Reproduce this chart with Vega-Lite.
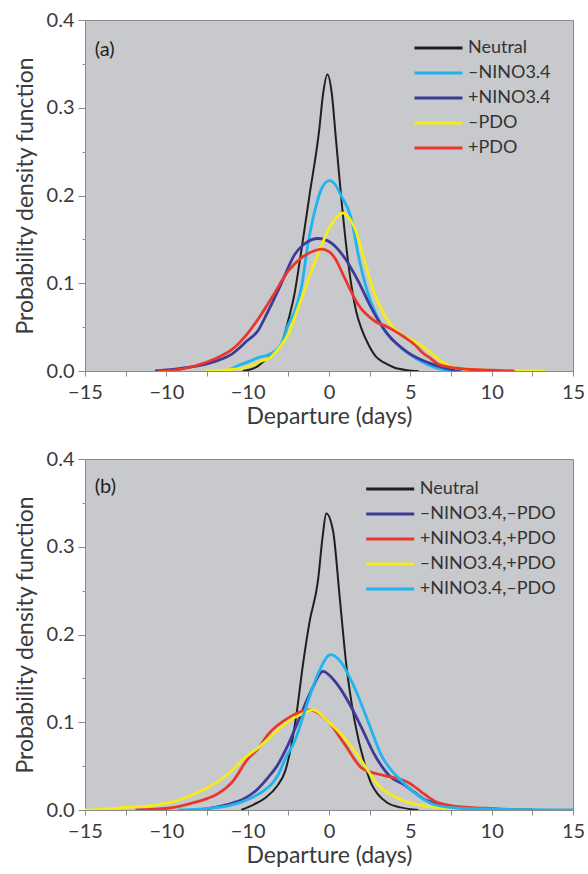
{
  "$schema": "https://vega.github.io/schema/vega-lite/v6.json",
  "padding": {"left": 13, "top": 9, "right": 5, "bottom": 5},
  "background": "white",
  "config": {
    "font": "Lato",
    "view": {"fill": "#c8c9cc", "stroke": "#8a8a8a", "strokeWidth": 1},
    "axis": {
      "grid": false, "domain": false,
      "labelFont": "Lato", "labelFontSize": 20, "labelColor": "#3a3a3a",
      "titleFont": "Lato", "titleFontSize": 23, "titleFontWeight": "normal", "titleColor": "#3a3a3a",
      "tickColor": "#8a8a8a", "tickWidth": 1
    },
    "legend": {
      "orient": "none", "padding": 0, "title": null,
      "symbolType": "M-4,0H4", "symbolSize": 144, "symbolStrokeWidth": 2.8,
      "labelFont": "Lato", "labelFontSize": 18, "labelColor": "#333333",
      "labelOffset": 20.5, "rowPadding": 7
    },
    "concat": {"spacing": 19}
  },
  "datasets": {
    "a": [
      {"s":"Neutral","x":-5.3,"y":0},{"s":"Neutral","x":-4.5,"y":0.004},{"s":"Neutral","x":-3.9,"y":0.013},{"s":"Neutral","x":-3.4,"y":0.02},{"s":"Neutral","x":-2.9,"y":0.032},{"s":"Neutral","x":-2.5,"y":0.058},{"s":"Neutral","x":-2.1,"y":0.09},{"s":"Neutral","x":-1.8,"y":0.125},{"s":"Neutral","x":-1.2,"y":0.2},{"s":"Neutral","x":-0.6,"y":0.275},{"s":"Neutral","x":-0.37,"y":0.315},{"s":"Neutral","x":-0.1,"y":0.338},{"s":"Neutral","x":0.18,"y":0.315},{"s":"Neutral","x":0.4,"y":0.27},{"s":"Neutral","x":0.74,"y":0.2},{"s":"Neutral","x":1.17,"y":0.125},{"s":"Neutral","x":1.67,"y":0.068},{"s":"Neutral","x":2.0,"y":0.048},{"s":"Neutral","x":2.4,"y":0.031},{"s":"Neutral","x":2.9,"y":0.016},{"s":"Neutral","x":3.4,"y":0.0095},{"s":"Neutral","x":4.0,"y":0.004},{"s":"Neutral","x":4.8,"y":0.001},{"s":"Neutral","x":5.5,"y":0},
      {"s":"–NINO3.4","x":-6.3,"y":0},{"s":"–NINO3.4","x":-5.6,"y":0.006},{"s":"–NINO3.4","x":-4.9,"y":0.011},{"s":"–NINO3.4","x":-4.4,"y":0.015},{"s":"–NINO3.4","x":-3.8,"y":0.018},{"s":"–NINO3.4","x":-3.3,"y":0.023},{"s":"–NINO3.4","x":-2.9,"y":0.032},{"s":"–NINO3.4","x":-2.5,"y":0.053},{"s":"–NINO3.4","x":-2.1,"y":0.068},{"s":"–NINO3.4","x":-1.7,"y":0.095},{"s":"–NINO3.4","x":-1.29,"y":0.145},{"s":"–NINO3.4","x":-0.88,"y":0.182},{"s":"–NINO3.4","x":-0.4,"y":0.21},{"s":"–NINO3.4","x":0.04,"y":0.217},{"s":"–NINO3.4","x":0.4,"y":0.212},{"s":"–NINO3.4","x":0.74,"y":0.2},{"s":"–NINO3.4","x":1.35,"y":0.175},{"s":"–NINO3.4","x":1.88,"y":0.125},{"s":"–NINO3.4","x":2.4,"y":0.088},{"s":"–NINO3.4","x":3.2,"y":0.053},{"s":"–NINO3.4","x":4.4,"y":0.027},{"s":"–NINO3.4","x":5.65,"y":0.011},{"s":"–NINO3.4","x":6.5,"y":0.004},{"s":"–NINO3.4","x":7.7,"y":0},
      {"s":"+NINO3.4","x":-10.7,"y":0},{"s":"+NINO3.4","x":-9.5,"y":0.002},{"s":"+NINO3.4","x":-8.0,"y":0.006},{"s":"+NINO3.4","x":-7.0,"y":0.011},{"s":"+NINO3.4","x":-6.0,"y":0.019},{"s":"+NINO3.4","x":-5.0,"y":0.035},{"s":"+NINO3.4","x":-4.4,"y":0.045},{"s":"+NINO3.4","x":-3.75,"y":0.068},{"s":"+NINO3.4","x":-2.95,"y":0.099},{"s":"+NINO3.4","x":-2.1,"y":0.133},{"s":"+NINO3.4","x":-1.5,"y":0.145},{"s":"+NINO3.4","x":-0.68,"y":0.151},{"s":"+NINO3.4","x":0.13,"y":0.146},{"s":"+NINO3.4","x":0.96,"y":0.129},{"s":"+NINO3.4","x":1.78,"y":0.103},{"s":"+NINO3.4","x":2.6,"y":0.072},{"s":"+NINO3.4","x":3.6,"y":0.042},{"s":"+NINO3.4","x":4.86,"y":0.021},{"s":"+NINO3.4","x":6.1,"y":0.0095},{"s":"+NINO3.4","x":7.2,"y":0.003},{"s":"+NINO3.4","x":8.2,"y":0},
      {"s":"–PDO","x":-7.6,"y":0},{"s":"–PDO","x":-6.5,"y":0.001},{"s":"–PDO","x":-5.8,"y":0.002},{"s":"–PDO","x":-4.8,"y":0.006},{"s":"–PDO","x":-4.2,"y":0.011},{"s":"–PDO","x":-3.5,"y":0.017},{"s":"–PDO","x":-3.0,"y":0.028},{"s":"–PDO","x":-2.5,"y":0.042},{"s":"–PDO","x":-1.9,"y":0.072},{"s":"–PDO","x":-1.29,"y":0.103},{"s":"–PDO","x":-0.68,"y":0.133},{"s":"–PDO","x":-0.06,"y":0.16},{"s":"–PDO","x":0.4,"y":0.174},{"s":"–PDO","x":0.86,"y":0.18},{"s":"–PDO","x":1.2,"y":0.175},{"s":"–PDO","x":1.58,"y":0.163},{"s":"–PDO","x":2.2,"y":0.125},{"s":"–PDO","x":2.8,"y":0.088},{"s":"–PDO","x":3.6,"y":0.058},{"s":"–PDO","x":4.4,"y":0.042},{"s":"–PDO","x":5.0,"y":0.036},{"s":"–PDO","x":5.7,"y":0.029},{"s":"–PDO","x":6.3,"y":0.02},{"s":"–PDO","x":6.9,"y":0.011},{"s":"–PDO","x":7.6,"y":0.004},{"s":"–PDO","x":8.5,"y":0.0015},{"s":"–PDO","x":10,"y":0.0008},{"s":"–PDO","x":13.3,"y":0},
      {"s":"+PDO","x":-10.5,"y":0},{"s":"+PDO","x":-9.5,"y":0.001},{"s":"+PDO","x":-8.2,"y":0.006},{"s":"+PDO","x":-7.0,"y":0.014},{"s":"+PDO","x":-6.0,"y":0.024},{"s":"+PDO","x":-5.0,"y":0.043},{"s":"+PDO","x":-4.4,"y":0.058},{"s":"+PDO","x":-3.5,"y":0.084},{"s":"+PDO","x":-2.5,"y":0.114},{"s":"+PDO","x":-1.7,"y":0.129},{"s":"+PDO","x":-0.9,"y":0.137},{"s":"+PDO","x":-0.47,"y":0.139},{"s":"+PDO","x":0.0,"y":0.136},{"s":"+PDO","x":0.35,"y":0.129},{"s":"+PDO","x":0.96,"y":0.106},{"s":"+PDO","x":1.78,"y":0.076},{"s":"+PDO","x":2.8,"y":0.057},{"s":"+PDO","x":3.5,"y":0.051},{"s":"+PDO","x":4.0,"y":0.046},{"s":"+PDO","x":4.6,"y":0.039},{"s":"+PDO","x":5.27,"y":0.03},{"s":"+PDO","x":5.8,"y":0.02},{"s":"+PDO","x":6.2,"y":0.015},{"s":"+PDO","x":6.7,"y":0.008},{"s":"+PDO","x":7.5,"y":0.004},{"s":"+PDO","x":8.5,"y":0.002},{"s":"+PDO","x":10,"y":0.001},{"s":"+PDO","x":11.4,"y":0}
    ],
    "b": [
      {"s":"Neutral","x":-5.4,"y":0},{"s":"Neutral","x":-4.6,"y":0.0065},{"s":"Neutral","x":-3.9,"y":0.014},{"s":"Neutral","x":-3.2,"y":0.027},{"s":"Neutral","x":-2.7,"y":0.044},{"s":"Neutral","x":-2.3,"y":0.075},{"s":"Neutral","x":-2.0,"y":0.109},{"s":"Neutral","x":-1.6,"y":0.166},{"s":"Neutral","x":-1.19,"y":0.215},{"s":"Neutral","x":-0.68,"y":0.261},{"s":"Neutral","x":-0.4,"y":0.31},{"s":"Neutral","x":-0.17,"y":0.338},{"s":"Neutral","x":0.25,"y":0.318},{"s":"Neutral","x":0.66,"y":0.242},{"s":"Neutral","x":1.06,"y":0.166},{"s":"Neutral","x":1.58,"y":0.101},{"s":"Neutral","x":2.2,"y":0.052},{"s":"Neutral","x":2.6,"y":0.03},{"s":"Neutral","x":3.0,"y":0.018},{"s":"Neutral","x":3.6,"y":0.008},{"s":"Neutral","x":4.4,"y":0.003},{"s":"Neutral","x":5.5,"y":0},
      {"s":"–NINO3.4,–PDO","x":-8.05,"y":0},{"s":"–NINO3.4,–PDO","x":-7.0,"y":0.003},{"s":"–NINO3.4,–PDO","x":-6.2,"y":0.0065},{"s":"–NINO3.4,–PDO","x":-5.2,"y":0.013},{"s":"–NINO3.4,–PDO","x":-4.5,"y":0.022},{"s":"–NINO3.4,–PDO","x":-3.75,"y":0.037},{"s":"–NINO3.4,–PDO","x":-3.2,"y":0.05},{"s":"–NINO3.4,–PDO","x":-2.6,"y":0.071},{"s":"–NINO3.4,–PDO","x":-1.9,"y":0.101},{"s":"–NINO3.4,–PDO","x":-1.09,"y":0.136},{"s":"–NINO3.4,–PDO","x":-0.37,"y":0.158},{"s":"–NINO3.4,–PDO","x":0.35,"y":0.147},{"s":"–NINO3.4,–PDO","x":1.17,"y":0.124},{"s":"–NINO3.4,–PDO","x":2.0,"y":0.094},{"s":"–NINO3.4,–PDO","x":2.8,"y":0.063},{"s":"–NINO3.4,–PDO","x":3.83,"y":0.037},{"s":"–NINO3.4,–PDO","x":4.6,"y":0.029},{"s":"–NINO3.4,–PDO","x":5.27,"y":0.02},{"s":"–NINO3.4,–PDO","x":5.8,"y":0.013},{"s":"–NINO3.4,–PDO","x":6.7,"y":0.007},{"s":"–NINO3.4,–PDO","x":8,"y":0.003},{"s":"–NINO3.4,–PDO","x":10,"y":0.001},{"s":"–NINO3.4,–PDO","x":12.5,"y":0},
      {"s":"+NINO3.4,+PDO","x":-11.9,"y":0},{"s":"+NINO3.4,+PDO","x":-9.9,"y":0.002},{"s":"+NINO3.4,+PDO","x":-8.4,"y":0.008},{"s":"+NINO3.4,+PDO","x":-7.5,"y":0.013},{"s":"+NINO3.4,+PDO","x":-6.8,"y":0.019},{"s":"+NINO3.4,+PDO","x":-5.9,"y":0.033},{"s":"+NINO3.4,+PDO","x":-5.0,"y":0.058},{"s":"+NINO3.4,+PDO","x":-4.4,"y":0.069},{"s":"+NINO3.4,+PDO","x":-3.75,"y":0.086},{"s":"+NINO3.4,+PDO","x":-2.5,"y":0.105},{"s":"+NINO3.4,+PDO","x":-1.19,"y":0.114},{"s":"+NINO3.4,+PDO","x":-0.06,"y":0.101},{"s":"+NINO3.4,+PDO","x":0.96,"y":0.075},{"s":"+NINO3.4,+PDO","x":2.0,"y":0.048},{"s":"+NINO3.4,+PDO","x":3.0,"y":0.041},{"s":"+NINO3.4,+PDO","x":3.7,"y":0.038},{"s":"+NINO3.4,+PDO","x":4.4,"y":0.035},{"s":"+NINO3.4,+PDO","x":5.0,"y":0.03},{"s":"+NINO3.4,+PDO","x":5.65,"y":0.021},{"s":"+NINO3.4,+PDO","x":6.5,"y":0.01},{"s":"+NINO3.4,+PDO","x":7.5,"y":0.005},{"s":"+NINO3.4,+PDO","x":9.5,"y":0.002},{"s":"+NINO3.4,+PDO","x":12,"y":0},
      {"s":"–NINO3.4,+PDO","x":-15,"y":0},{"s":"–NINO3.4,+PDO","x":-13.8,"y":0.001},{"s":"–NINO3.4,+PDO","x":-12.5,"y":0.003},{"s":"–NINO3.4,+PDO","x":-10.9,"y":0.005},{"s":"–NINO3.4,+PDO","x":-9.9,"y":0.008},{"s":"–NINO3.4,+PDO","x":-8.85,"y":0.014},{"s":"–NINO3.4,+PDO","x":-7.5,"y":0.025},{"s":"–NINO3.4,+PDO","x":-6.8,"y":0.033},{"s":"–NINO3.4,+PDO","x":-6.2,"y":0.041},{"s":"–NINO3.4,+PDO","x":-5.2,"y":0.059},{"s":"–NINO3.4,+PDO","x":-4.16,"y":0.074},{"s":"–NINO3.4,+PDO","x":-3.2,"y":0.09},{"s":"–NINO3.4,+PDO","x":-2.5,"y":0.101},{"s":"–NINO3.4,+PDO","x":-1.6,"y":0.11},{"s":"–NINO3.4,+PDO","x":-0.98,"y":0.114},{"s":"–NINO3.4,+PDO","x":-0.06,"y":0.101},{"s":"–NINO3.4,+PDO","x":0.96,"y":0.082},{"s":"–NINO3.4,+PDO","x":2.0,"y":0.056},{"s":"–NINO3.4,+PDO","x":3.0,"y":0.029},{"s":"–NINO3.4,+PDO","x":4.4,"y":0.012},{"s":"–NINO3.4,+PDO","x":5.9,"y":0.0046},{"s":"–NINO3.4,+PDO","x":7.5,"y":0.002},{"s":"–NINO3.4,+PDO","x":9.2,"y":0},
      {"s":"+NINO3.4,–PDO","x":-9.3,"y":0},{"s":"+NINO3.4,–PDO","x":-8,"y":0.001},{"s":"+NINO3.4,–PDO","x":-6.2,"y":0.0046},{"s":"+NINO3.4,–PDO","x":-4.75,"y":0.014},{"s":"+NINO3.4,–PDO","x":-4.0,"y":0.022},{"s":"+NINO3.4,–PDO","x":-3.5,"y":0.03},{"s":"+NINO3.4,–PDO","x":-3.1,"y":0.041},{"s":"+NINO3.4,–PDO","x":-2.7,"y":0.058},{"s":"+NINO3.4,–PDO","x":-2.1,"y":0.079},{"s":"+NINO3.4,–PDO","x":-1.29,"y":0.124},{"s":"+NINO3.4,–PDO","x":-0.68,"y":0.155},{"s":"+NINO3.4,–PDO","x":0.1,"y":0.177},{"s":"+NINO3.4,–PDO","x":0.76,"y":0.168},{"s":"+NINO3.4,–PDO","x":1.58,"y":0.139},{"s":"+NINO3.4,–PDO","x":2.4,"y":0.101},{"s":"+NINO3.4,–PDO","x":3.2,"y":0.063},{"s":"+NINO3.4,–PDO","x":4.45,"y":0.033},{"s":"+NINO3.4,–PDO","x":5.67,"y":0.014},{"s":"+NINO3.4,–PDO","x":6.5,"y":0.006},{"s":"+NINO3.4,–PDO","x":8,"y":0.002},{"s":"+NINO3.4,–PDO","x":10,"y":0.001},{"s":"+NINO3.4,–PDO","x":15,"y":0}
    ]
  },
  "vconcat": [
    {
      "width": 488, "height": 351,
      "layer": [
        {
          "data": {"name": "a"},
          "mark": {"type": "line", "interpolate": "monotone", "clip": true},
          "encoding": {
            "x": {"field": "x", "type": "quantitative", "scale": {"domain": [-15, 15], "nice": false},
              "axis": {"title": "Departure (days)", "values": [-15,-12.5,-10,-7.5,-5,-2.5,0,2.5,5,7.5,10,12.5,15],
                "labelExpr": "datum.value == -5 ? '−10' : (datum.value % 5 == 0 ? format(datum.value, 'd') : '')",
                "tickSize": 5, "labelPadding": 6, "titlePadding": 3, "labelFlush": false}},
            "y": {"field": "y", "type": "quantitative", "scale": {"domain": [0, 0.4], "nice": false},
              "axis": {"title": "Probability density function", "values": [0,0.05,0.1,0.15,0.2,0.25,0.3,0.35,0.4],
                "labelExpr": "round(datum.value*100) % 10 == 0 ? format(datum.value, '.1f') : ''",
                "tickSize": {"condition": {"test": "round(datum.value*100) % 10 == 0", "value": 7}, "value": 3},
                "labelPadding": 4, "titlePadding": 9, "labelFlush": false}},
            "color": {"field": "s", "type": "nominal", "sort": null,
              "scale": {"domain": ["Neutral", "–NINO3.4", "+NINO3.4", "–PDO", "+PDO"],
                "range": ["#1f1f1f", "#1fb4ee", "#3d3a9a", "#f3ec1a", "#e8372c"]},
              "legend": {"legendX": 344.5, "legendY": 19}},
            "strokeWidth": {"condition": {"test": "datum.s === 'Neutral'", "value": 2}, "value": 2.8}
          }
        },
        {
          "data": {"values": [{}]},
          "mark": {"type": "text", "align": "left", "baseline": "middle", "fontSize": 20, "font": "Lato", "color": "#222222"},
          "encoding": {
            "x": {"datum": -14.4, "type": "quantitative"},
            "y": {"datum": 0.366, "type": "quantitative"},
            "text": {"value": "(a)"}
          }
        }
      ]
    },
    {
      "width": 488, "height": 351,
      "layer": [
        {
          "data": {"name": "b"},
          "mark": {"type": "line", "interpolate": "monotone", "clip": true},
          "encoding": {
            "x": {"field": "x", "type": "quantitative", "scale": {"domain": [-15, 15], "nice": false},
              "axis": {"title": "Departure (days)", "values": [-15,-12.5,-10,-7.5,-5,-2.5,0,2.5,5,7.5,10,12.5,15],
                "labelExpr": "datum.value == -5 ? '−10' : (datum.value % 5 == 0 ? format(datum.value, 'd') : '')",
                "tickSize": 5, "labelPadding": 6, "titlePadding": 3, "labelFlush": false}},
            "y": {"field": "y", "type": "quantitative", "scale": {"domain": [0, 0.4], "nice": false},
              "axis": {"title": "Probability density function", "values": [0,0.05,0.1,0.15,0.2,0.25,0.3,0.35,0.4],
                "labelExpr": "round(datum.value*100) % 10 == 0 ? format(datum.value, '.1f') : ''",
                "tickSize": {"condition": {"test": "round(datum.value*100) % 10 == 0", "value": 7}, "value": 3},
                "labelPadding": 4, "titlePadding": 9, "labelFlush": false}},
            "color": {"field": "s", "type": "nominal", "sort": null,
              "scale": {"domain": ["Neutral", "–NINO3.4,–PDO", "+NINO3.4,+PDO", "–NINO3.4,+PDO", "+NINO3.4,–PDO"],
                "range": ["#1f1f1f", "#3d3a9a", "#e8372c", "#f3ec1a", "#1fb4ee"]},
              "legend": {"legendX": 296.2, "legendY": 21}},
            "strokeWidth": {"condition": {"test": "datum.s === 'Neutral'", "value": 2}, "value": 2.8}
          }
        },
        {
          "data": {"values": [{}]},
          "mark": {"type": "text", "align": "left", "baseline": "middle", "fontSize": 20, "font": "Lato", "color": "#222222"},
          "encoding": {
            "x": {"datum": -14.4, "type": "quantitative"},
            "y": {"datum": 0.368, "type": "quantitative"},
            "text": {"value": "(b)"}
          }
        }
      ]
    }
  ],
  "resolve": {"scale": {"color": "independent"}, "legend": {"color": "independent"}}
}
